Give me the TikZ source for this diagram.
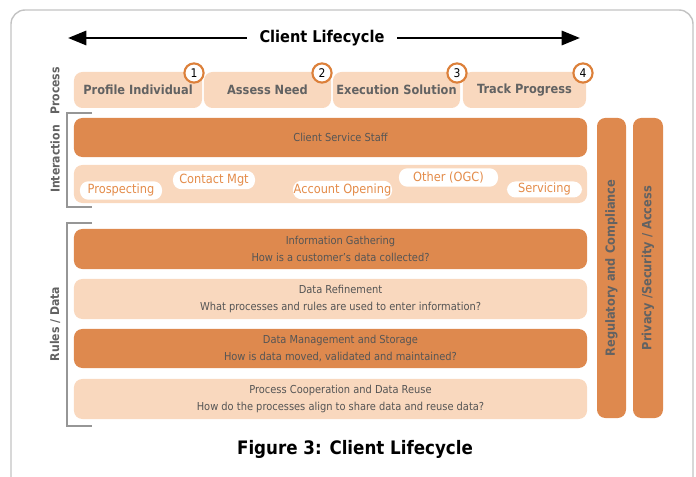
\documentclass[tikz,border=0pt]{standalone}
\usepackage{fontspec}
\setmainfont{DejaVu Sans Condensed}
\usetikzlibrary{arrows.meta}

\definecolor{darkorange}{RGB}{222,137,78}
\definecolor{lightpeach}{RGB}{249,216,190}
\definecolor{badgeorange}{RGB}{220,128,58}
\definecolor{pilltext}{RGB}{228,140,74}
\definecolor{labelgray}{RGB}{98,98,98}
\definecolor{textgray}{RGB}{85,85,85}
\definecolor{framegray}{RGB}{195,195,195}
\definecolor{bracketgray}{RGB}{150,150,150}

\begin{document}
\begin{tikzpicture}[
    x=0.025cm, y=-0.025cm,
    every node/.style={font=\fontsize{7.8}{12}\selectfont},
    band/.style={rounded corners=6pt, minimum width=12.825cm, minimum height=1cm, inner sep=0pt},
    darkband/.style={band, fill=darkorange},
    lightband/.style={band, fill=lightpeach},
    bandtext/.style={align=center, text=textgray, inner sep=0pt},
    stage/.style={fill=lightpeach, rounded corners=6pt, minimum height=0.9cm, inner sep=0pt,
      text=labelgray, font=\fontsize{9}{11}\selectfont\bfseries},
    badge/.style={circle, draw=badgeorange, line width=1.5pt, fill=white, minimum size=0.48cm,
      inner sep=0pt, font=\fontsize{8.5}{9}\selectfont},
    pill/.style={fill=white, rounded corners=6pt, minimum height=0.46cm, inner sep=0pt,
      text=pilltext, font=\fontsize{9}{10}\selectfont},
    sidebar/.style={fill=darkorange, rounded corners=6pt, rotate=90, minimum width=7.5cm,
      minimum height=0.73cm, inner sep=0pt, text=labelgray, font=\fontsize{9}{10}\selectfont\bfseries},
    rowlabel/.style={rotate=90, text=labelgray, font=\fontsize{8.6}{10}\selectfont\bfseries},
    bracket/.style={draw=bracketgray, line width=0.8pt},
    lifearrow/.style={line width=2pt, -{Triangle[length=13pt,width=10pt]}}
  ]
  \useasboundingbox (0,0) rectangle (696,477);
  \draw[framegray, line width=1pt, rounded corners=10pt] (11,10) rectangle (693,500);

  % Lifecycle arrow
  \node[font=\fontsize{11.5}{14}\selectfont\bfseries, inner xsep=9pt] (title) at (322,38) {Client Lifecycle};
  \coordinate (startL) at (68,38);
  \coordinate (endR) at (580,38);
  \draw[lifearrow] (title.west) -- (startL);
  \draw[lifearrow] (title.east) -- (endR);

  % Process stages
  \node[stage, minimum width=3.2cm]   (profile) at (138,90)   {Profile Individual};
  \node[stage, minimum width=3.175cm] (assess)  at (267.5,90) {Assess Need};
  \node[stage, minimum width=3.175cm] (execute) at (396.5,90) {Execution Solution};
  \node[stage, minimum width=3.075cm] (track)   at (524.5,90) {Track Progress};
  \node[badge] (b1) at (194,73) {1};
  \node[badge] (b2) at (322,73) {2};
  \node[badge] (b3) at (457,73) {3};
  \node[badge] (b4) at (583,73) {4};

  % Interaction
  \node[darkband, minimum height=0.975cm] (staff) at (330.5,137.5) {};
  \node[bandtext] at ([xshift=0.25cm]staff.center) {Client Service Staff};
  \node[lightband, minimum height=0.95cm] (channels) at (330.5,184) {};
  \node[pill, minimum width=2.05cm]  (prospect) at (121,190.5) {Prospecting};
  \node[pill, minimum width=2.05cm]  (contact)  at (214,180)   {Contact Mgt};
  \node[pill, minimum width=2.475cm] (account)  at (342.5,190) {Account Opening};
  \node[pill, minimum width=2.475cm] (other)    at (448.5,177.5) {Other (OGC)};
  \node[pill, minimum width=1.875cm, minimum height=0.4cm] (service) at (544.5,189.5) {Servicing};

  % Rules / data
  \node[darkband] (gather) at (330.5,249) {};
  \node[bandtext] at ([xshift=0.25cm]gather.center) {Information Gathering\\How is a customer’s data collected?};
  \node[lightband] (refine) at (330.5,299) {};
  \node[bandtext] at ([xshift=0.25cm]refine.center) {Data Refinement\\What processes and rules are used to enter information?};
  \node[darkband, minimum height=0.975cm] (manage) at (330.5,348.5) {};
  \node[bandtext] at ([xshift=0.25cm]manage.center) {Data Management and Storage\\How is data moved, validated and maintained?};
  \node[lightband] (reuse) at (330.5,399) {};
  \node[bandtext] at ([xshift=0.25cm]reuse.center) {Process Cooperation and Data Reuse\\How do the processes align to share data and reuse data?};

  % Side bars
  \node[sidebar, minimum height=0.725cm] (regulatory) at (611.5,268) {Regulatory and Compliance};
  \node[sidebar, minimum height=0.75cm]  (privacy)    at (648,268)   {Privacy /Security / Access};

  % Row labels and brackets
  \node[rowlabel] at (55,91)  {Process};
  \node[rowlabel] at (55,159) {Interaction};
  \node[rowlabel] at (55,324) {Rules / Data};
  \draw[bracket] (92,113) -- (67,113) -- (67,207) -- (92,207);
  \draw[bracket] (92,223) -- (67,223) -- (67,426) -- (92,426);

  \node[font=\fontsize{13.2}{16}\selectfont\bfseries] (caption) at (355,449) {Figure 3: Client Lifecycle};
\end{tikzpicture}
\end{document}
